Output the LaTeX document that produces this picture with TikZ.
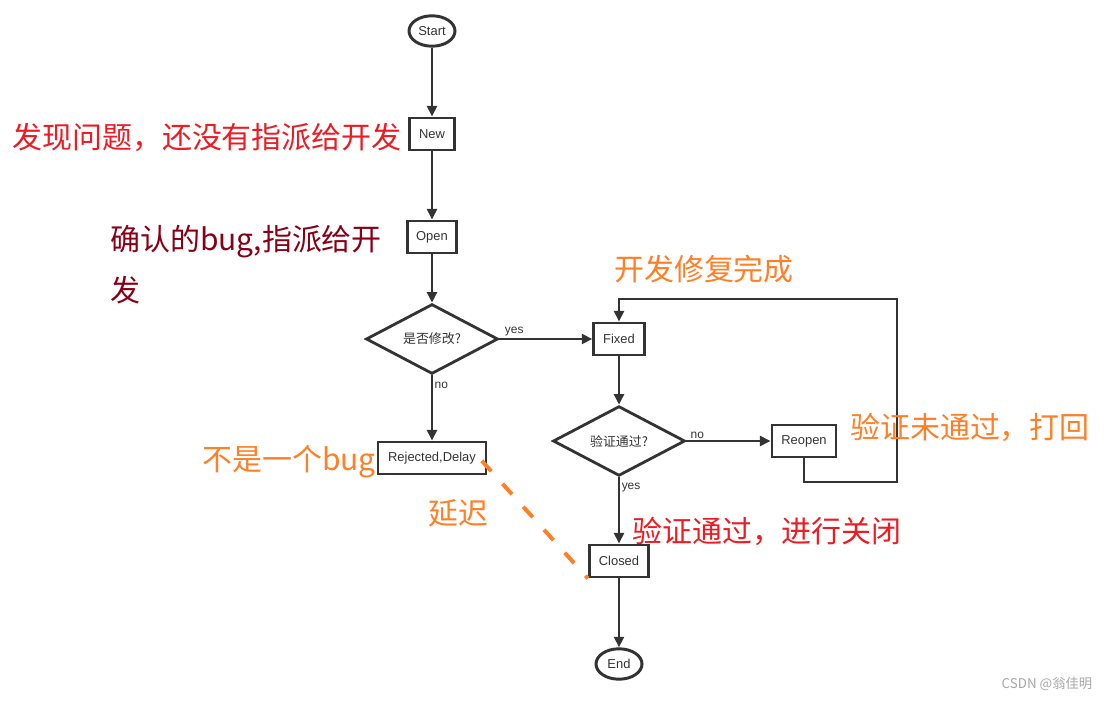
\documentclass[tikz,border=0pt]{standalone}
\usepackage{fontspec}
\setmainfont{Liberation Sans}
\newfontfamily\cjk{Noto Sans CJK SC}
\usetikzlibrary{shapes.geometric,arrows.meta}
\definecolor{linegray}{HTML}{333333}
\definecolor{notered}{HTML}{ED1C24}
\definecolor{noteorange}{HTML}{FF7F27}
\definecolor{notemaroon}{HTML}{880015}

\begin{document}
\begin{tikzpicture}[x=0.025cm,y=-0.025cm,
        font=\fontsize{9.2}{11}\selectfont,
        every node/.style={text=linegray},
        terminal/.style={ellipse,draw=linegray,line width=2.1pt,minimum width=1.15cm,minimum height=0.76cm,inner sep=0pt},
        process/.style={rectangle,draw=linegray,line width=2.1pt,minimum height=0.8cm,inner sep=2pt},
        decision/.style={diamond,draw=linegray,line width=2pt,minimum width=3.3cm,minimum height=1.6cm,inner sep=0pt,font=\cjk\fontsize{9.2}{11}\selectfont},
        flow/.style={draw=linegray,line width=1.9pt,-{Triangle[width=7pt,length=7.5pt]}},
        branch/.style={font=\fontsize{8.5}{10}\selectfont,inner sep=1pt},
        note/.style={font=\cjk\fontsize{21.3}{36}\selectfont,inner sep=0pt},
        delayline/.style={draw=noteorange,line width=2.8pt,dash pattern=on 10pt off 12pt}]
        \useasboundingbox (0,0) rectangle (1111,701);

        % Draw the flow nodes
        \node[terminal] (start) at (432,31) {Start};
        \node[process,minimum width=1.13cm] (new) at (432,134) {New};
        \node[process,minimum width=1.23cm] (open) at (432,237) {Open};
        \node[decision] (modify) at (432,339) {是否修改?};
        \node[process,minimum width=2.7cm] (rejected) at (432,458) {Rejected,Delay};
        \node[process,minimum width=1.26cm] (fixed) at (619,339) {Fixed};
        \node[decision] (verify) at (619,441) {验证通过?};
        \node[process,minimum width=1.6cm] (reopen) at (804,441) {Reopen};
        \node[process,minimum width=1.48cm] (closed) at (619,561) {Closed};
        \node[terminal] (end) at (619,664) {End};

        % Connect them
        \draw[flow] (start) -- (new);
        \draw[flow] (new) -- (open);
        \draw[flow] (open) -- (modify);
        \draw[flow] (modify.east) -- node[branch,pos=0.16,above] {yes} (fixed.west);
        \draw[flow] (modify.south) -- node[branch,pos=0.15,right] {no} (rejected.north);
        \draw[flow] (fixed) -- (verify);
        \draw[flow] (verify.east) -- node[branch,pos=0.13,above] {no} (reopen.west);
        \draw[flow] (verify.south) -- node[branch,pos=0.16,right] {yes} (closed.north);
        \draw[flow] (closed) -- (end);
        \coordinate (loopbottom) at (897,482);
        \coordinate (looptop) at (897,299);
        \draw[flow] (reopen.south) |- (loopbottom) -- (looptop) -| (fixed.north);
        \draw[delayline] ([xshift=-4pt,yshift=-2pt]rejected.east) -- (closed.south west);

        % Add the notes
        \node[note,text=notered] (newnote) at (207,137) {发现问题，还没有指派给开发};
        \node[note,text=notemaroon,anchor=north west,align=left] (opennote) at (110,225) {确认的bug,指派给开\\发};
        \node[note,text=noteorange] (fixednote) at (704,269) {开发修复完成};
        \node[note,text=noteorange] (reopennote) at (970,427) {验证未通过，打回};
        \node[note,text=noteorange] (bugnote) at (289,462) {不是一个bug};
        \node[note,text=noteorange] (delaynote) at (458,513) {延迟};
        \node[note,text=notered] (closednote) at (767,531) {验证通过，进行关闭};
        \node[text=gray!70,font=\cjk\fontsize{9.5}{11}\selectfont] (mark) at (1047,684) {CSDN @翁佳明};
\end{tikzpicture}
\end{document}
